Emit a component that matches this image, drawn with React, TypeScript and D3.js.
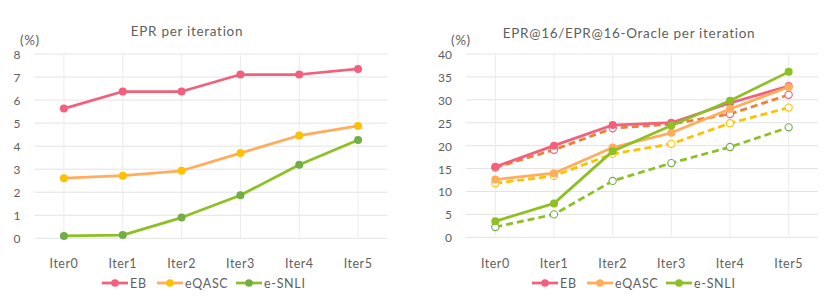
import { useEffect, useRef } from 'react';
import * as d3 from 'd3';

const iterations = ['Iter0', 'Iter1', 'Iter2', 'Iter3', 'Iter4', 'Iter5'];

// left chart: EPR per iteration
const eprEB = [5.63, 6.37, 6.37, 7.11, 7.11, 7.35];
const eprQASC = [2.61, 2.72, 2.93, 3.7, 4.46, 4.88];
const eprSNLI = [0.1, 0.14, 0.9, 1.87, 3.19, 4.27];
const leftTicks = [0, 1, 2, 3, 4, 5, 6, 7, 8];

// right chart: EPR@16 (solid) and EPR@16-Oracle (dashed)
const at16EB = [15.4, 20.0, 24.5, 25.0, 29.3, 33.0];
const at16QASC = [12.6, 14.0, 19.6, 22.8, 28.0, 32.8];
const at16SNLI = [3.5, 7.4, 18.8, 24.4, 29.8, 36.1];
const oracleEB = [15.2, 19.1, 23.8, 24.7, 26.9, 31.1];
const oracleQASC = [11.8, 13.4, 18.2, 20.4, 24.9, 28.3];
const oracleSNLI = [2.25, 5.0, 12.3, 16.2, 19.7, 24.0];
const rightTicks = [0, 5, 10, 15, 20, 25, 30, 35, 40];

const legendNames = ['EB', 'eQASC', 'e-SNLI'];

const FONT = 'Lato, "Open Sans", sans-serif';
const TEXT = '#5f5f5f';
const GRID = '#e3e3e3';

interface Series {
  values: number[];
  stroke: string;
  marker: string;
  dashed?: boolean;
  hollow?: boolean;
}

interface PanelOpts {
  x0: number;
  x1: number;
  yTop: number;
  yBottom: number;
  max: number;
  ticks: number[];
  title: string;
  titleX: number;
  titleY: number;
  unitX: number;
  series: Series[];
  legend: { name: string; stroke: string; marker: string; x: number }[];
}

function drawPanel(svg: d3.Selection<SVGSVGElement, unknown, null, undefined>, o: PanelOpts) {
  const g = svg.append('g');
  const x = d3.scaleBand<string>().domain(iterations).range([o.x0, o.x1]);
  const y = d3.scaleLinear().domain([0, o.max]).range([o.yBottom, o.yTop]);
  const cx = (i: number) => (x(iterations[i]) as number) + x.bandwidth() / 2;

  g.append('text')
    .attr('x', o.titleX)
    .attr('y', o.titleY)
    .attr('text-anchor', 'middle')
    .attr('font-size', 13.5)
    .attr('letter-spacing', 0.7)
    .attr('fill', TEXT)
    .text(o.title);

  g.append('text')
    .attr('x', o.unitX)
    .attr('y', 45)
    .attr('font-size', 13.5)
    .attr('letter-spacing', 0.6)
    .attr('fill', TEXT)
    .text('(%)');

  // horizontal grid + tick labels
  g.selectAll('.hg')
    .data(o.ticks)
    .enter()
    .append('line')
    .attr('x1', o.x0)
    .attr('x2', o.x1)
    .attr('y1', d => y(d))
    .attr('y2', d => y(d))
    .attr('stroke', GRID)
    .attr('stroke-width', 1);

  g.selectAll('.yl')
    .data(o.ticks)
    .enter()
    .append('text')
    .attr('x', o.x0 - 14)
    .attr('y', d => y(d) + 5)
    .attr('text-anchor', 'end')
    .attr('font-size', 12)
    .attr('fill', TEXT)
    .text(d => d);

  // vertical grid at category centres
  g.selectAll('.vg')
    .data(iterations)
    .enter()
    .append('line')
    .attr('x1', (_, i) => cx(i))
    .attr('x2', (_, i) => cx(i))
    .attr('y1', o.yTop)
    .attr('y2', o.yBottom)
    .attr('stroke', '#ececec')
    .attr('stroke-width', 1);

  g.selectAll('.xl')
    .data(iterations)
    .enter()
    .append('text')
    .attr('x', (_, i) => cx(i))
    .attr('y', 268)
    .attr('text-anchor', 'middle')
    .attr('font-size', 12.5)
    .attr('letter-spacing', 0.5)
    .attr('fill', TEXT)
    .text(d => d);

  const line = d3.line<number>()
    .x((_, i) => cx(i))
    .y(d => y(d));

  o.series.forEach(s => {
    g.append('path')
      .datum(s.values)
      .attr('fill', 'none')
      .attr('stroke', s.stroke)
      .attr('stroke-width', 2.75)
      .attr('stroke-linejoin', 'round')
      .attr('stroke-dasharray', s.dashed ? '7 4' : null)
      .attr('d', line);
    g.selectAll(null)
      .data(s.values)
      .enter()
      .append('circle')
      .attr('cx', (_, i) => cx(i))
      .attr('cy', d => y(d))
      .attr('r', s.hollow ? 3.6 : 4)
      .attr('fill', s.hollow ? '#fff' : s.marker)
      .attr('stroke', s.marker)
      .attr('stroke-width', s.hollow ? 1.1 : 0);
  });

  // legend
  o.legend.forEach(l => {
    const ly = 283;
    g.append('line')
      .attr('x1', l.x)
      .attr('x2', l.x + 26)
      .attr('y1', ly)
      .attr('y2', ly)
      .attr('stroke', l.stroke)
      .attr('stroke-width', 2.75);
    g.append('circle')
      .attr('cx', l.x + 13)
      .attr('cy', ly)
      .attr('r', 3.8)
      .attr('fill', l.marker);
    g.append('text')
      .attr('x', l.x + 28)
      .attr('y', ly + 4.5)
      .attr('font-size', 12.5)
      .attr('letter-spacing', 0.7)
      .attr('fill', TEXT)
      .text(l.name);
  });
}

export default function App() {
  const svgRef = useRef<SVGSVGElement>(null);

  useEffect(() => {
    if (!svgRef.current) return;
    const svg = d3.select(svgRef.current);
    svg.selectAll('*').remove();

    const pink = '#f2607b';
    const orange = '#ffad5a';
    const yellow = '#ffc000';
    const green = '#8cc025';
    const darkGreen = '#72ad45';
    const darkOrange = '#ef7f35';

    drawPanel(svg, {
      x0: 34.5,
      x1: 387.5,
      yTop: 54,
      yBottom: 238.3,
      max: 8,
      ticks: leftTicks,
      title: 'EPR per iteration',
      titleX: 187,
      titleY: 36,
      unitX: 20,
      series: [
        { values: eprEB, stroke: pink, marker: pink },
        { values: eprQASC, stroke: orange, marker: yellow },
        { values: eprSNLI, stroke: green, marker: darkGreen },
      ],
      legend: [
        { name: legendNames[0], stroke: pink, marker: pink, x: 102 },
        { name: legendNames[1], stroke: orange, marker: yellow, x: 157 },
        { name: legendNames[2], stroke: green, marker: darkGreen, x: 236 },
      ],
    });

    drawPanel(svg, {
      x0: 466,
      x1: 818,
      yTop: 54,
      yBottom: 237.3,
      max: 40,
      ticks: rightTicks,
      title: 'EPR@16/EPR@16-Oracle per iteration',
      titleX: 629,
      titleY: 38,
      unitX: 451,
      series: [
        { values: oracleEB, stroke: darkOrange, marker: pink, dashed: true, hollow: true },
        { values: oracleQASC, stroke: yellow, marker: yellow, dashed: true, hollow: true },
        { values: oracleSNLI, stroke: green, marker: darkGreen, dashed: true, hollow: true },
        { values: at16EB, stroke: pink, marker: pink },
        { values: at16QASC, stroke: orange, marker: orange },
        { values: at16SNLI, stroke: green, marker: green },
      ],
      legend: [
        { name: legendNames[0], stroke: pink, marker: pink, x: 532 },
        { name: legendNames[1], stroke: orange, marker: orange, x: 587 },
        { name: legendNames[2], stroke: green, marker: green, x: 666 },
      ],
    });
  }, []);

  return (
    <div style={{ position: 'absolute', left: 0, top: 0 }}>
      <svg
        ref={svgRef}
        width={830}
        height={303}
        style={{ display: 'block', background: '#fff', fontFamily: FONT }}
      />
    </div>
  );
}
